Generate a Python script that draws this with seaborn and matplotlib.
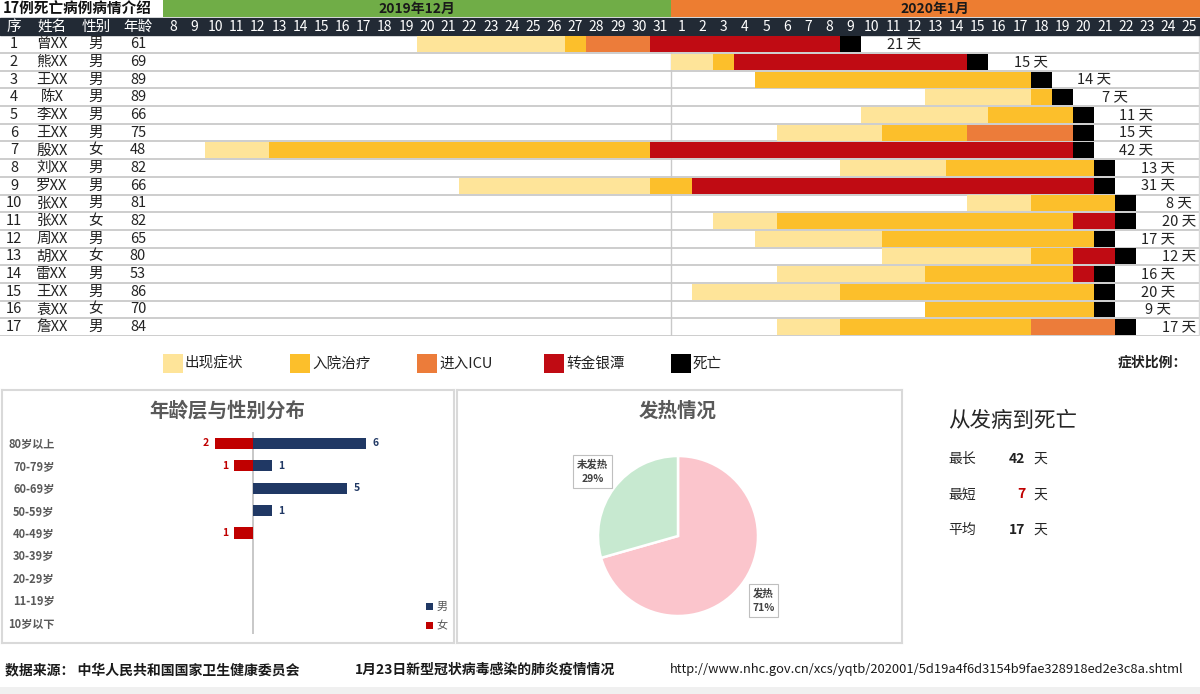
import numpy as np
import pandas as pd
import matplotlib.pyplot as plt
from matplotlib.patches import Rectangle
import seaborn as sns

# 17例死亡病例
names = ['曾XX', '熊XX', '王XX', '陈X', '李XX', '王XX', '殷XX', '刘XX', '罗XX',
         '张XX', '张XX', '周XX', '胡XX', '雷XX', '王XX', '袁XX', '詹XX']
sexes = ['男', '男', '男', '男', '男', '男', '女', '男', '男',
         '男', '女', '男', '女', '男', '男', '女', '男']
ages = [61, 69, 89, 89, 66, 75, 48, 82, 66, 81, 82, 65, 80, 53, 86, 70, 84]

# 各阶段开始日期 (月-日), 空 = 没有该阶段
onset = ['12-20', '01-01', '', '01-13', '01-10', '01-06', '12-10', '01-09', '12-22',
         '01-15', '01-03', '01-05', '01-11', '01-06', '01-02', '', '01-06']
admit = ['12-27', '01-03', '01-05', '01-18', '01-16', '01-11', '12-13', '01-14', '12-31',
         '01-18', '01-06', '01-11', '01-18', '01-13', '01-09', '01-13', '01-09']
icu = ['12-28', '', '', '', '', '01-15', '', '', '',
       '', '', '', '', '', '', '', '01-18']
transfer = ['12-31', '01-04', '', '', '', '', '12-31', '', '01-02',
            '', '01-20', '', '01-20', '01-20', '', '', '']
death = ['01-09', '01-15', '01-18', '01-19', '01-20', '01-20', '01-20', '01-21', '01-21',
         '01-22', '01-22', '01-21', '01-22', '01-21', '01-21', '01-21', '01-22']
days_total = [21, 15, 14, 7, 11, 15, 42, 13, 31, 8, 20, 17, 12, 16, 20, 9, 17]

dec_days = [str(d) for d in range(8, 32)]
jan_days = [str(d) for d in range(1, 26)]

stage_names = ['出现症状', '入院治疗', '进入ICU', '转金银潭', '死亡']
stage_colors = ['#fee499', '#fcbf2b', '#ec7c3a', '#c00b13', '#000000']

# 年龄层与性别
age_groups = ['80岁以上', '70-79岁', '60-69岁', '50-59岁', '40-49岁',
              '30-39岁', '20-29岁', '11-19岁', '10岁以下']
male_cnt = [6, 1, 5, 1, 0, 0, 0, 0, 0]
female_cnt = [2, 1, 0, 0, 1, 0, 0, 0, 0]

# 发热情况
fever_labels = ['发热', '未发热']
fever_cnt = [12, 5]
fever_colors = ['#fbc5cc', '#c7e9d0']

sns.set_theme(style='white')
plt.rcParams['font.family'] = ['Noto Sans CJK SC', 'DejaVu Sans']
NARROW = ['Liberation Sans Narrow', 'Noto Sans CJK SC', 'DejaVu Sans']

W, H = 1200, 694
fig = plt.figure(figsize=(12, 6.94), dpi=100)


def px_box(x0, y0, w, h):
    return [x0 / W, 1 - (y0 + h) / H, w / W, h / H]


def day_idx(s):
    m, d = s.split('-')
    return int(d) - 8 if m == '12' else len(dec_days) + int(d) - 1


# ---------- 甘特表 ----------
cell = 21.17
x_left = -162.7 / cell
n_days = len(dec_days) + len(jan_days)
ax = fig.add_axes(px_box(0, 0, W, 336))
ax.set_xlim(x_left, n_days)
ax.set_ylim(17.5, -1.5)
ax.axis('off')

segs = []
for i in range(len(names)):
    marks = [onset[i], admit[i], icu[i], transfer[i], death[i]]
    pts = [(day_idx(s), k) for k, s in enumerate(marks) if s]
    for j, (start, k) in enumerate(pts):
        end = pts[j + 1][0] if j + 1 < len(pts) else start + 1
        segs.append(dict(row=i + 1, start=start, width=end - start, stage=stage_names[k]))
seg = pd.DataFrame(segs)

for r in range(0, 18):
    ax.axhline(r + 0.5, color='#c9c9c9', lw=1.3, zorder=0.5)
ax.plot([len(dec_days), len(dec_days)], [0.5, 17.5], color='#c9c9c9', lw=1, zorder=0.6)
ax.plot([n_days - 0.05, n_days - 0.05], [0.5, 17.5], color='#d9d9d9', lw=1, zorder=0.6)

for st, col in zip(stage_names, stage_colors):
    sub = seg[seg['stage'] == st]
    ax.barh(sub['row'], sub['width'], left=sub['start'], height=0.9, color=col, lw=0, zorder=2)

# 标题行 + 月份
ax.barh(-1, len(dec_days), left=0, height=0.95, color='#70ad47', lw=0)
ax.barh(-1, len(jan_days), left=len(dec_days), height=0.95, color='#ed7d31', lw=0)
ax.text(len(dec_days) / 2, -1, '2019年12月', ha='center', va='center', fontsize=10,
        fontweight='bold', color='#1a1a1a')
ax.text(len(dec_days) + len(jan_days) / 2, -1, '2020年1月', ha='center', va='center',
        fontsize=10, fontweight='bold', color='#1a1a1a')
ax.text(x_left + 3 / cell, -1, '17例死亡病例病情介绍', ha='left', va='center',
        fontsize=10.5, fontweight='bold', color='#111111')

# 表头
ax.axhspan(-0.5, 0.5, color='#222a35', zorder=1)
col_x = [x_left + 14 / cell, x_left + 52 / cell, x_left + 96 / cell, x_left + 138 / cell]
for cx, t in zip(col_x, ['序', '姓名', '性别', '年龄']):
    ax.text(cx, 0, t, ha='center', va='center', color='white', fontsize=10.5,
            family=NARROW, zorder=3)
for k, d in enumerate(dec_days + jan_days):
    ax.text(k + 0.5, 0, d, ha='center', va='center', color='white', fontsize=10,
            family=NARROW, zorder=3)

for i in range(len(names)):
    r = i + 1
    for cx, t in zip(col_x, [str(r), names[i], sexes[i], str(ages[i])]):
        ax.text(cx, r, t, ha='center', va='center', color='#222222', fontsize=10.5,
                family=NARROW)
    ax.text(min(day_idx(death[i]) + 3, n_days - 0.8), r, f'{days_total[i]} 天',
            ha='center', va='center', color='#222222', fontsize=10.5, family=NARROW)

# ---------- 图例 ----------
lg = fig.add_axes(px_box(0, 350, W, 27))
lg.set_xlim(x_left, n_days)
lg.set_ylim(0, 1)
lg.axis('off')
for k, (st, col) in enumerate(zip(stage_names, stage_colors)):
    lg.add_patch(Rectangle((6 * k, 0.15), 0.95, 0.7, color=col, lw=0))
    lg.text(6 * k + 1.05, 0.5, st, ha='left', va='center', fontsize=10.5,
            family=NARROW, color='#222222')
fig.text(1187 / W, 1 - 363 / H, '症状比例：', ha='right', va='center', fontsize=10,
         fontweight='bold', color='#222222')

# ---------- 面板边框 ----------
for bx in [(2, 390, 452, 253), (457, 390, 445, 253)]:
    pa = fig.add_axes(px_box(*bx))
    pa.set_xticks([])
    pa.set_yticks([])
    pa.set_facecolor('none')
    for sp in pa.spines.values():
        sp.set_color('#d9d9d9')
        sp.set_linewidth(1.5)

# ---------- 年龄层与性别分布 ----------
fig.text(227 / W, 1 - 411 / H, '年龄层与性别分布', ha='center', va='center', fontsize=14,
         fontweight='bold', color='#595959')
pyr_df = pd.DataFrame({
    'age': age_groups * 2,
    'count': male_cnt + [-v for v in female_cnt],
    'sex': ['男'] * len(age_groups) + ['女'] * len(age_groups),
})
unit = 18.8
pyr = fig.add_axes(px_box(60, 432, 360, 202))
sns.barplot(data=pyr_df, x='count', y='age', hue='sex', order=age_groups,
            hue_order=['男', '女'], palette={'男': '#203864', '女': '#c00000'},
            dodge=False, width=0.5, orient='h', ax=pyr, legend=True,
            saturation=1, linewidth=0)
pyr.set_xlim(-(253 - 60) / unit, (420 - 253) / unit)
pyr.axvline(0, color='#bfbfbf', lw=1.2, zorder=0)
pyr.set_xlabel('')
pyr.set_ylabel('')
pyr.set_xticks([])
pyr.tick_params(axis='y', length=0, pad=4)
for lab in pyr.get_yticklabels():
    lab.set_fontsize(8)
    lab.set_fontweight('bold')
    lab.set_color('#595959')
for sp in pyr.spines.values():
    sp.set_visible(False)
pyr.set_facecolor('none')
for k in range(len(age_groups)):
    if male_cnt[k] > 0:
        pyr.text(male_cnt[k] + 0.5, k, str(male_cnt[k]), ha='center', va='center',
                 fontsize=7.5, fontweight='bold', color='#203864')
    if female_cnt[k] > 0:
        pyr.text(-female_cnt[k] - 0.5, k, str(female_cnt[k]), ha='center', va='center',
                 fontsize=7.5, fontweight='bold', color='#c00000')
pyr.legend(loc='center', bbox_to_anchor=(437 / W, 1 - 617 / H), bbox_transform=fig.transFigure,
           frameon=False, fontsize=8, handlelength=0.6, handleheight=0.6,
           handletextpad=0.3, labelspacing=0.8, labelcolor='#595959')

# ---------- 发热情况 ----------
fig.text(678 / W, 1 - 411 / H, '发热情况', ha='center', va='center', fontsize=14,
         fontweight='bold', color='#595959')
pie_ax = fig.add_axes(px_box(678 - 110, 536 - 110, 220, 220))
wedges, _ = pie_ax.pie(fever_cnt, colors=fever_colors, startangle=90, counterclock=False,
                       wedgeprops=dict(edgecolor='white', linewidth=1.8))
pie_ax.set_xlim(-1.375, 1.375)
pie_ax.set_ylim(-1.375, 1.375)
pie_ax.set_aspect('equal')
pie_ax.axis('off')
total = sum(fever_cnt)
for w, lab, v in zip(wedges, fever_labels, fever_cnt):
    ang = np.deg2rad((w.theta1 + w.theta2) / 2)
    pie_ax.text(1.34 * np.cos(ang), 1.34 * np.sin(ang), f'{lab}\n{v / total:.0%}',
                ha='center', va='center', fontsize=7.5, fontweight='bold', color='#404040',
                linespacing=1.6,
                bbox=dict(boxstyle='square,pad=0.35', fc='white', ec='#bfbfbf', lw=0.8))

# ---------- 从发病到死亡 ----------
fig.text(948 / W, 1 - 421 / H, '从发病到死亡', ha='left', va='center', fontsize=15.5,
         color='#262626')
stats = [('最长', max(days_total), '#222222'),
         ('最短', min(days_total), '#c00000'),
         ('平均', round(np.mean(days_total)), '#222222')]
for k, (lab, v, col) in enumerate(stats):
    yy = 1 - (459 + 35.5 * k) / H
    fig.text(948 / W, yy, lab, ha='left', va='center', fontsize=10, color='#262626')
    fig.text(1025 / W, yy, str(v), ha='right', va='center', fontsize=10,
             fontweight='bold', color=col)
    fig.text(1033 / W, yy, '天', ha='left', va='center', fontsize=10, color='#262626')

# ---------- 数据来源 ----------
fy = 1 - 670 / H
fig.text(5 / W, fy, '数据来源： 中华人民共和国国家卫生健康委员会', ha='left', va='center',
         fontsize=10, fontweight='bold', color='#1a1a1a')
fig.text(355 / W, fy, '1月23日新型冠状病毒感染的肺炎疫情情况', ha='left', va='center',
         fontsize=10, fontweight='bold', color='#1a1a1a')
fig.text(670 / W, fy, 'http://www.nhc.gov.cn/xcs/yqtb/202001/5d19a4f6d3154b9fae328918ed2e3c8a.shtml',
         ha='left', va='center', fontsize=9.3, family=NARROW, color='#1a1a1a')
fig.patches.append(Rectangle((0, 0), 1, 7 / H, transform=fig.transFigure,
                             color='#f0f0f0', lw=0, zorder=0))

fig.savefig('out.png', dpi=100)
